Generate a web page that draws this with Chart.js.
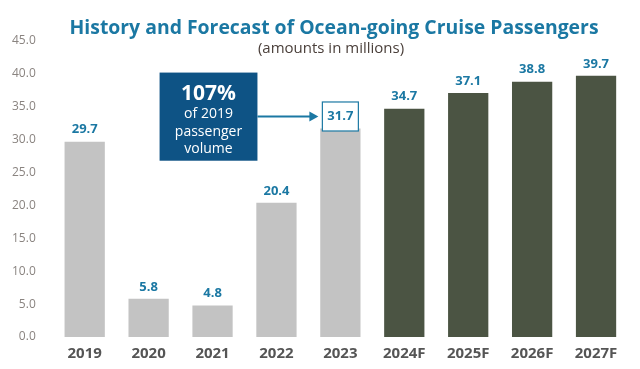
<!DOCTYPE html>
<html>
<head>
<meta charset="utf-8">
<script src="https://cdn.jsdelivr.net/npm/chart.js@4.4.0/dist/chart.umd.min.js"></script>
<style>
  html, body { margin: 0; padding: 0; background: #fff; }
  #wrap { width: 640px; height: 369px; }
</style>
</head>
<body>
<div id="wrap"><canvas id="cruiseChart" width="640" height="369"></canvas></div>
<script>
const years = ['2019', '2020', '2021', '2022', '2023', '2024F', '2025F', '2026F', '2027F']
const passengers = [29.7, 5.8, 4.8, 20.4, 31.7, 34.7, 37.1, 38.8, 39.7]
const forecast = [false, false, false, false, false, true, true, true, true]
const yTicks = [0, 5, 10, 15, 20, 25, 30, 35, 40, 45]

const titleText = 'History and Forecast of Ocean-going Cruise Passengers'
const subtitleText = '(amounts in millions)'
const calloutLines = ['107%', 'of 2019', 'passenger', 'volume']
const calloutTarget = 4 // 2023 bar

const FONT = '"Open Sans", Lato, sans-serif'
const BLUE = '#1b78a3'

const extras = {
  id: 'extras',
  afterDatasetsDraw(chart) {
    const ctx = chart.ctx
    const x = chart.scales.x
    const y = chart.scales.y
    const meta = chart.getDatasetMeta(0)

    // title + subtitle
    ctx.save()
    ctx.textAlign = 'center'
    ctx.textBaseline = 'alphabetic'
    let size = 21
    ctx.font = 'bold ' + size + 'px ' + FONT
    const w = ctx.measureText(titleText).width
    size = size * 530 / w
    ctx.font = 'bold ' + size.toFixed(1) + 'px ' + FONT
    ctx.fillStyle = BLUE
    ctx.fillText(titleText, 334, 34)
    ctx.font = '15px ' + FONT
    ctx.fillStyle = '#4a3f3a'
    ctx.fillText(subtitleText, 331, 53)
    ctx.restore()

    // value labels
    ctx.save()
    ctx.font = 'bold 13px ' + FONT
    ctx.textAlign = 'center'
    ctx.textBaseline = 'middle'
    meta.data.forEach((bar, i) => {
      const label = passengers[i].toFixed(1)
      const ly = bar.y - 12
      if (i === calloutTarget) {
        ctx.fillStyle = '#fff'
        ctx.fillRect(bar.x - 18, ly - 14.5, 36, 29)
        ctx.strokeStyle = BLUE
        ctx.lineWidth = 1.2
        ctx.strokeRect(bar.x - 18, ly - 14.5, 36, 29)
      }
      ctx.fillStyle = BLUE
      ctx.fillText(label, bar.x, ly)
    })
    ctx.restore()

    // callout box
    const target = meta.data[calloutTarget]
    const boxL = (x.getPixelForValue(1) + x.getPixelForValue(2)) / 2 - 21
    const boxR = x.getPixelForValue(3) - 19
    const boxT = y.getPixelForValue(40.2)
    const boxB = y.getPixelForValue(26.8)
    ctx.save()
    ctx.fillStyle = '#0e5385'
    ctx.fillRect(boxL, boxT, boxR - boxL, boxB - boxT)
    ctx.fillStyle = '#fff'
    ctx.textAlign = 'center'
    ctx.textBaseline = 'middle'
    const cx = (boxL + boxR) / 2
    ctx.font = 'bold 21px ' + FONT
    ctx.fillText(calloutLines[0], cx, boxT + 21)
    ctx.font = '14px ' + FONT
    ctx.fillText(calloutLines[1], cx, boxT + 41)
    ctx.fillText(calloutLines[2], cx, boxT + 59)
    ctx.fillText(calloutLines[3], cx, boxT + 76)

    // arrow to 2023 label
    const ay = target.y - 12
    const ax2 = target.x - 22
    ctx.strokeStyle = BLUE
    ctx.lineWidth = 2
    ctx.beginPath()
    ctx.moveTo(boxR, ay)
    ctx.lineTo(ax2 - 7, ay)
    ctx.stroke()
    ctx.fillStyle = BLUE
    ctx.beginPath()
    ctx.moveTo(ax2, ay)
    ctx.lineTo(ax2 - 9, ay - 5)
    ctx.lineTo(ax2 - 9, ay + 5)
    ctx.closePath()
    ctx.fill()
    ctx.restore()
  }
}

new Chart(document.getElementById('cruiseChart'), {
  type: 'bar',
  data: {
    labels: years,
    datasets: [{
      data: passengers,
      backgroundColor: forecast.map(f => f ? '#4b5443' : '#c3c3c3'),
      borderWidth: 0,
      barPercentage: 0.63,
      categoryPercentage: 1
    }]
  },
  options: {
    responsive: false,
    animation: false,
    layout: { padding: { top: 41, right: 12, left: 3, bottom: 6 } },
    plugins: {
      legend: { display: false },
      tooltip: { enabled: false }
    },
    scales: {
      x: {
        grid: { display: false },
        border: { display: false },
        ticks: {
          color: '#555',
          font: { family: FONT, size: 15, weight: 'bold' },
          padding: 0
        }
      },
      y: {
        min: 0,
        max: 45,
        afterBuildTicks(axis) { axis.ticks = yTicks.map(v => ({ value: v })) },
        grid: { display: false },
        border: { display: false },
        ticks: {
          color: '#8a8480',
          font: { family: FONT, size: 12 },
          padding: 9,
          callback: v => v.toFixed(1)
        }
      }
    }
  },
  plugins: [extras]
})
</script>
</body>
</html>
